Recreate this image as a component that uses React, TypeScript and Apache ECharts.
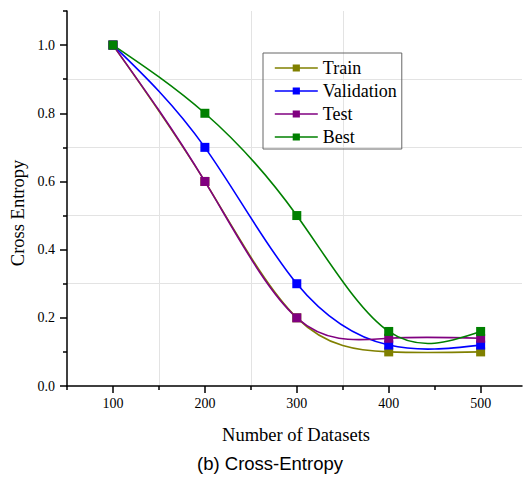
import React, { useEffect, useRef } from "react";
import * as echarts from "echarts";

// Number of datasets on the x axis
const datasetSizes = [100, 200, 300, 400, 500];

// Cross entropy per curve
const trainValues = [1.0, 0.6, 0.2, 0.1, 0.1];
const validationValues = [1.0, 0.7, 0.3, 0.12, 0.12];
const testValues = [1.0, 0.6, 0.2, 0.14, 0.14];
const bestValues = [1.0, 0.8, 0.5, 0.16, 0.16];

// Tick positions
const xMajorTicks = [100, 200, 300, 400, 500];
const xMinorTicks = [50, 150, 250, 350, 450];
const yMajorTicks = [0, 0.2, 0.4, 0.6, 0.8, 1.0];
const yMinorTicks = [0.1, 0.3, 0.5, 0.7, 0.9, 1.1];

const SERIF = "Liberation Serif";
const SANS = "Liberation Sans";

const pairs = (ys: number[]) => datasetSizes.map((x, i) => [x, ys[i]]);

// Natural cubic spline through pixel points, written as SVG cubic Bezier segments
function splinePath(pts: number[][]): string {
  const n = pts.length;
  const xs = pts.map((p) => p[0]);
  const ys = pts.map((p) => p[1]);
  const h: number[] = [];
  for (let i = 0; i < n - 1; i++) h.push(xs[i + 1] - xs[i]);
  // Solve tridiagonal system for second derivatives (natural ends: M0 = Mn-1 = 0)
  const M = new Array(n).fill(0);
  if (n > 2) {
    const a: number[] = [], b: number[] = [], c: number[] = [], d: number[] = [];
    for (let i = 1; i < n - 1; i++) {
      a.push(h[i - 1]);
      b.push(2 * (h[i - 1] + h[i]));
      c.push(h[i]);
      d.push(6 * ((ys[i + 1] - ys[i]) / h[i] - (ys[i] - ys[i - 1]) / h[i - 1]));
    }
    const m = b.length;
    for (let i = 1; i < m; i++) {
      const w = a[i] / b[i - 1];
      b[i] -= w * c[i - 1];
      d[i] -= w * d[i - 1];
    }
    const sol = new Array(m).fill(0);
    sol[m - 1] = d[m - 1] / b[m - 1];
    for (let i = m - 2; i >= 0; i--) sol[i] = (d[i] - c[i] * sol[i + 1]) / b[i];
    for (let i = 0; i < m; i++) M[i + 1] = sol[i];
  }
  let path = `M${xs[0]},${ys[0]}`;
  for (let i = 0; i < n - 1; i++) {
    const hi = h[i];
    const slope = (ys[i + 1] - ys[i]) / hi;
    const d0 = slope - (hi * (2 * M[i] + M[i + 1])) / 6;
    const d1 = slope + (hi * (M[i] + 2 * M[i + 1])) / 6;
    const c1x = xs[i] + hi / 3;
    const c1y = ys[i] + (d0 * hi) / 3;
    const c2x = xs[i + 1] - hi / 3;
    const c2y = ys[i + 1] - (d1 * hi) / 3;
    path += ` C${c1x},${c1y} ${c2x},${c2y} ${xs[i + 1]},${ys[i + 1]}`;
  }
  return path;
}

export default function App() {
  const ref = useRef<HTMLDivElement>(null);

  useEffect(() => {
    if (!ref.current) return;
    const chart = echarts.init(ref.current, null, { renderer: "svg" });

    const curves = [
      { name: "Train", color: "#808000", values: trainValues },
      { name: "Validation", color: "#0000ff", values: validationValues },
      { name: "Test", color: "#800080", values: testValues },
      { name: "Best", color: "#008000", values: bestValues },
    ];

    // Spline curve drawn through the data points in pixel space
    const curveSeries = curves.map((c) => ({
      name: c.name + " spline",
      type: "custom",
      xAxisIndex: 0,
      yAxisIndex: 0,
      z: 1,
      silent: true,
      data: pairs(c.values),
      renderItem: (params: any, api: any) => {
        if (params.dataIndex !== 0) return null;
        const pts = pairs(c.values).map((p) => api.coord(p));
        return {
          type: "path",
          shape: { pathData: splinePath(pts) },
          style: { stroke: c.color, lineWidth: 1.6, fill: "none" },
        };
      },
    }));

    // Square markers at each measured point (legend entries come from these)
    const markerSeries = curves.map((c) => ({
      name: c.name,
      type: "line",
      xAxisIndex: 0,
      yAxisIndex: 0,
      z: 3,
      data: pairs(c.values),
      symbol: "rect",
      symbolSize: 9,
      lineStyle: { color: c.color, width: 0, opacity: 0 },
      itemStyle: { color: c.color },
    }));

    chart.setOption({
      animation: false,
      backgroundColor: "#ffffff",
      textStyle: { fontFamily: SERIF },
      grid: { left: 67, right: 1, top: 11, bottom: 93 },
      legend: {
        orient: "vertical",
        left: 263,
        top: 53,
        itemWidth: 43,
        itemHeight: 9,
        itemGap: 5,
        padding: [6, 5, 3, 11],
        borderColor: "#666666",
        borderWidth: 1,
        textStyle: { fontFamily: SERIF, fontSize: 18, color: "#000", lineHeight: 18 },
        data: curves.map((c) => ({
          name: c.name,
          lineStyle: { color: c.color, width: 1.6, opacity: 1 },
        })),
      },
      xAxis: [
        {
          type: "value",
          min: 50,
          max: 545,
          position: "bottom",
          axisLine: { show: true, lineStyle: { color: "#000", width: 1.5 } },
          axisTick: {
            show: true,
            customValues: xMajorTicks,
            length: 7,
            lineStyle: { color: "#000", width: 1.5 },
          },
          axisLabel: {
            customValues: xMajorTicks,
            margin: 10,
            fontFamily: SERIF,
            fontSize: 14,
            color: "#000",
          },
          splitLine: { show: false },
        },
        {
          type: "value",
          min: 50,
          max: 545,
          position: "bottom",
          axisLine: { show: false },
          axisTick: {
            show: true,
            customValues: xMinorTicks,
            length: 4,
            lineStyle: { color: "#000", width: 1.5 },
          },
          axisLabel: { show: false },
          splitLine: {
            show: true,
            showMinLine: false,
            showMaxLine: false,
            lineStyle: { color: "#e3e3e3", width: 1 },
          },
        },
      ],
      yAxis: [
        {
          type: "value",
          min: 0,
          max: 1.1,
          position: "left",
          axisLine: { show: true, lineStyle: { color: "#000", width: 1.5 } },
          axisTick: {
            show: true,
            customValues: yMajorTicks,
            length: 7,
            lineStyle: { color: "#000", width: 1.5 },
          },
          axisLabel: {
            customValues: yMajorTicks,
            formatter: (v: number) => v.toFixed(1),
            margin: 12,
            fontFamily: SERIF,
            fontSize: 14,
            color: "#000",
          },
          splitLine: { show: false },
        },
        {
          type: "value",
          min: 0,
          max: 1.1,
          position: "left",
          axisLine: { show: false },
          axisTick: {
            show: true,
            customValues: yMinorTicks,
            length: 4,
            lineStyle: { color: "#000", width: 1.5 },
          },
          axisLabel: { show: false },
          splitLine: {
            show: true,
            showMinLine: false,
            showMaxLine: false,
            lineStyle: { color: "#e3e3e3", width: 1 },
          },
        },
      ],
      graphic: [
        {
          type: "text",
          x: 18,
          y: 213,
          rotation: Math.PI / 2,
          style: {
            text: "Cross Entropy",
            fontFamily: SERIF,
            fontSize: 18.5,
            fill: "#000",
            align: "center",
            verticalAlign: "middle",
          },
        },
        {
          type: "text",
          x: 296,
          y: 435,
          style: {
            text: "Number of Datasets",
            fontFamily: SERIF,
            fontSize: 18.5,
            fill: "#000",
            align: "center",
            verticalAlign: "middle",
          },
        },
        {
          type: "text",
          x: 270,
          y: 463,
          style: {
            text: "(b) Cross-Entropy",
            fontFamily: SANS,
            fontSize: 18.5,
            fill: "#000",
            align: "center",
            verticalAlign: "middle",
          },
        },
      ],
      series: [...curveSeries, ...markerSeries],
    });

    return () => chart.dispose();
  }, []);

  return <div ref={ref} style={{ width: 523, height: 479, position: "absolute", left: 0, top: 0 }} />;
}
